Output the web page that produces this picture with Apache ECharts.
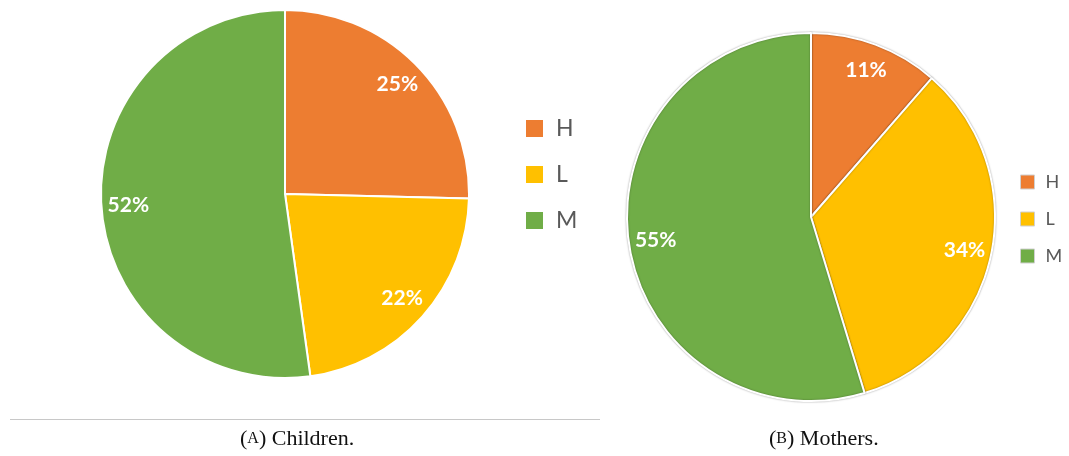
<!DOCTYPE html>
<html>
<head>
<meta charset="utf-8">
<script src="https://cdn.jsdelivr.net/npm/echarts@6/dist/echarts.min.js"></script>
<style>
html,body{margin:0;padding:0;background:#fff;}
#c{width:1069px;height:456px;}
</style>
</head>
<body>
<div id="c"></div>
<script>
const categories = ['H', 'L', 'M'];
const childrenValues = [25.4, 22.4, 52.2];
const mothersValues = [11.4, 33.9, 54.7];
const colors = ['#ED7D31', '#FFC000', '#70AD47'];
const captionLetters = ['A', 'B'];
const captionNames = ['Children.', 'Mothers.'];

const mk = (vals) => categories.map((n, i) => ({ name: n, value: vals[i] }));
const fmt = (p) => Math.round(p.percent) + '%';

const chart = echarts.init(document.getElementById('c'), null, { renderer: 'canvas' });

const labelStyle = {
  show: true, position: 'inside', formatter: fmt,
  color: '#fff', fontFamily: 'Lato', fontWeight: 'bold', fontSize: 21
};

function pie(center, vals, shadow) {
  return [{
    type: 'pie', center: center, radius: [0, 184], startAngle: 90, clockwise: true,
    data: mk(vals), label: { show: false }, labelLine: { show: false },
    itemStyle: Object.assign({ borderColor: '#fff', borderWidth: 2 }, shadow ? { shadowColor: 'rgba(0,0,0,0.35)', shadowBlur: 2 } : {}),
    emphasis: { disabled: true }, animation: false, silent: true
  }, {
    type: 'pie', center: center, radius: [124, 184], startAngle: 90, clockwise: true,
    data: mk(vals), label: labelStyle, labelLine: { show: false },
    itemStyle: { color: 'rgba(0,0,0,0)' },
    emphasis: { disabled: true }, animation: false, silent: true, legendHoverLink: false
  }];
}

function caption(i) {
  return {
    type: 'text',
    style: {
      text: '(' + '{sc|' + captionLetters[i] + '}) ' + captionNames[i],
      fill: '#111', font: '22px "Liberation Serif"',
      rich: { sc: { fontSize: 16, fontFamily: 'Liberation Serif', fill: '#111' } }
    }
  };
}

chart.setOption({
  animation: false,
  color: colors,
  legend: [{
    orient: 'vertical', left: 526, top: 117, icon: 'rect', padding: 0,
    itemWidth: 17, itemHeight: 17, itemGap: 23,
    data: categories,
    itemStyle: { borderWidth: 0 },
    textStyle: { fontFamily: 'Lato', fontSize: 23, color: '#595959', padding: [0, 0, 0, 8] },
    selectedMode: false
  }, {
    orient: 'vertical', left: 1020, top: 173, icon: 'rect', padding: 0,
    itemWidth: 14, itemHeight: 14, itemGap: 19,
    data: categories,
    itemStyle: { borderColor: '#d0d0d0', borderWidth: 1 },
    textStyle: { fontFamily: 'Lato', fontSize: 18, color: '#595959', padding: [0, 0, 0, 6] },
    selectedMode: false
  }],
  series: [].concat(pie([285, 194], childrenValues, false), pie([811, 217], mothersValues, true)),
  graphic: [
    { type: 'line', shape: { x1: 10, y1: 419.5, x2: 600, y2: 419.5 }, style: { stroke: '#c8c8c8', lineWidth: 1 } },
    Object.assign(caption(0), { left: 240, top: 428 }),
    Object.assign(caption(1), { left: 769, top: 428 })
  ]
});
</script>
</body>
</html>
